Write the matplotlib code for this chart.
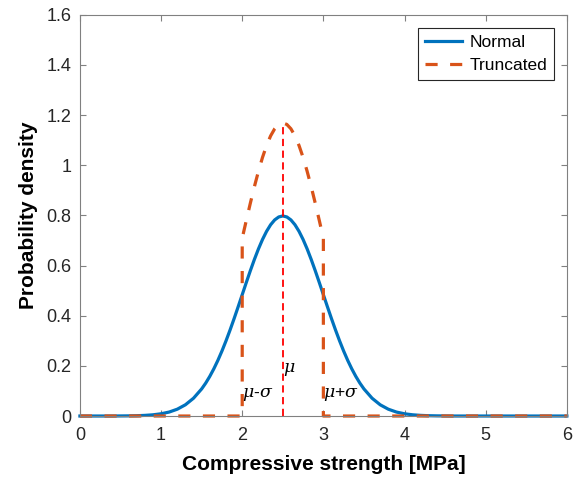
import matplotlib
matplotlib.use("Agg")
import matplotlib.pyplot as plt

plt.rcParams["font.family"] = ["Liberation Sans", "DejaVu Sans"]
plt.rcParams["mathtext.fontset"] = "dejavuserif"

# values
normal_x = [0.0, 0.1, 0.2, 0.3, 0.4, 0.5, 0.6, 0.7, 0.8, 0.9,
            1.0, 1.1, 1.2, 1.3, 1.4, 1.5, 1.55, 1.6, 1.65, 1.7, 1.75,
            1.8, 1.85, 1.9, 1.95, 2.0, 2.05, 2.1, 2.15, 2.2, 2.25,
            2.3, 2.35, 2.4, 2.45, 2.5, 2.55, 2.6, 2.65, 2.7, 2.75,
            2.8, 2.85, 2.9, 2.95, 3.0, 3.05, 3.1, 3.15, 3.2, 3.25,
            3.3, 3.35, 3.4, 3.45, 3.5, 3.6, 3.7, 3.8, 3.9, 4.0,
            4.1, 4.2, 4.3, 4.4, 4.5, 4.6, 4.8, 5.0, 5.5, 6.0]
normal_y = [0.0, 0.0, 0.0, 0.0, 0.0, 0.0003, 0.0006, 0.0012, 0.0025, 0.0048,
            0.0089, 0.0158, 0.0272, 0.0448, 0.0710, 0.1080, 0.1312, 0.1579, 0.1881, 0.2218, 0.2590,
            0.2995, 0.3428, 0.3884, 0.4357, 0.4839, 0.5322, 0.5794, 0.6245, 0.6664, 0.7041,
            0.7365, 0.7628, 0.7821, 0.7939, 0.7979, 0.7939, 0.7821, 0.7628, 0.7365, 0.7041,
            0.6664, 0.6245, 0.5794, 0.5322, 0.4839, 0.4357, 0.3884, 0.3428, 0.2995, 0.2590,
            0.2218, 0.1881, 0.1579, 0.1312, 0.1080, 0.0710, 0.0448, 0.0272, 0.0158, 0.0089,
            0.0048, 0.0025, 0.0012, 0.0006, 0.0003, 0.0, 0.0, 0.0, 0.0, 0.0]

trunc_x = [0.0, 2.0, 2.0, 2.05, 2.1, 2.15, 2.2, 2.25, 2.3, 2.35, 2.4, 2.45, 2.5,
           2.55, 2.6, 2.65, 2.7, 2.75, 2.8, 2.85, 2.9, 2.95, 3.0, 3.0, 6.0]
trunc_y = [0.0, 0.0, 0.709, 0.7796, 0.8487, 0.9148, 0.9761, 1.0314, 1.0788, 1.1173, 1.1456, 1.1629, 1.1688,
           1.1629, 1.1456, 1.1173, 1.0788, 1.0314, 0.9761, 0.9148, 0.8487, 0.7796, 0.709, 0.0, 0.0]

mu = 2.5
sigma = 0.5
mu_line_top = 1.1688

fig = plt.figure(figsize=(5.79, 4.79), dpi=100)
ax = fig.add_axes([0.138, 0.1315, 0.841, 0.8375])

ax.plot(normal_x, normal_y, color="#0072BD", lw=2.3, label="Normal", clip_on=False)
ax.plot(trunc_x, trunc_y, color="#D95319", lw=2.3, dashes=(3.8, 3.9), label="Truncated",
        clip_on=False)
ax.plot([mu, mu], [0, mu_line_top], color="#FF0000", lw=1.3, dashes=(4, 2.5))

ax.text(mu - sigma, 0.085, r"$\mu$-$\sigma$", fontsize=12.5, ha="left", va="center")
ax.text(mu, 0.185, r"$\mu$", fontsize=12.5, ha="left", va="center")
ax.text(mu + sigma, 0.085, r"$\mu$+$\sigma$", fontsize=12.5, ha="left", va="center")

ax.set_xlim(0, 6)
ax.set_ylim(0, 1.6)
ax.set_xticks([0, 1, 2, 3, 4, 5, 6])
ax.set_xticklabels(["0", "1", "2", "3", "4", "5", "6"])
ax.set_yticks([0, 0.2, 0.4, 0.6, 0.8, 1.0, 1.2, 1.4, 1.6])
ax.set_yticklabels(["0", "0.2", "0.4", "0.6", "0.8", "1", "1.2", "1.4", "1.6"])
ax.tick_params(direction="in", length=4, width=0.8, colors="#808080",
               labelcolor="#262626", labelsize=13, top=True, right=True,
               labeltop=False, labelright=False)
ax.tick_params(axis="x", pad=8)
ax.tick_params(axis="y", pad=6)
for s in ax.spines.values():
    s.set_color("#808080")
    s.set_linewidth(0.8)

ax.set_xlabel("Compressive strength [MPa]", fontsize=15, fontweight="bold", labelpad=8)
ax.set_ylabel("Probability density", fontsize=15, fontweight="bold", labelpad=6)

leg = ax.legend(loc="upper right", fontsize=12.5, fancybox=False, framealpha=1,
                edgecolor="#262626", handlelength=2.12, borderpad=0.4,
                labelspacing=0.45, handletextpad=0.4, borderaxespad=0.75)
leg.get_frame().set_linewidth(0.8)

fig.savefig("out.png", dpi=100)
